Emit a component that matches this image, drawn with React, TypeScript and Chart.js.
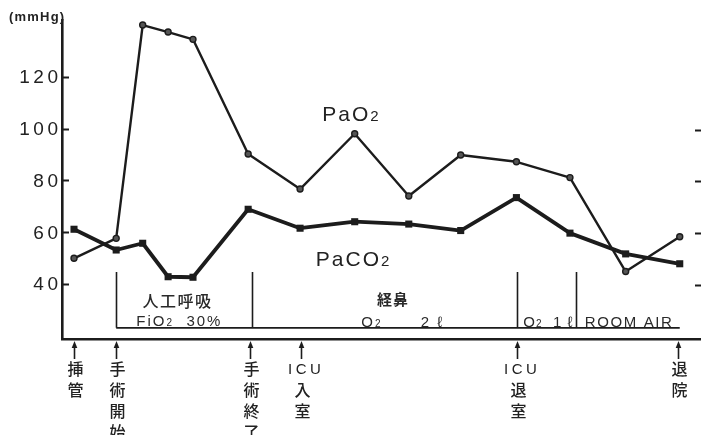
import React, { useEffect, useRef } from "react";
import { Chart, registerables } from "chart.js";

Chart.register(...registerables);

// Sampling moments along the peri-operative course (arbitrary time index)
const timeSteps = [0, 0.78, 1.27, 1.74, 2.2, 3.22, 4.18, 5.19, 6.19, 7.15, 8.18, 9.17, 10.2, 11.2];
// Arterial O2 tension (mmHg)
const paO2 = [50.0, 57.7, 139.9, 137.2, 134.4, 90.2, 76.7, 98.0, 74.0, 89.8, 87.2, 81.1, 44.9, 58.3];
// Arterial CO2 tension (mmHg)
const paCO2 = [61.2, 53.2, 55.8, 42.9, 42.7, 68.9, 61.6, 64.1, 63.2, 60.7, 73.4, 59.7, 51.7, 47.9];

const yTickValues = [40, 60, 80, 100, 120];
const rightTickValues = [40, 60, 80, 100];
const yMin = 18.9;
const yMax = 141.85;
const xMin = -0.222;
const xMax = 11.593;
const unitLabel = "(mmHg)";

// Clinical events marked under the time axis
const eventTimes = [0, 0.78, 3.26, 4.2, 8.19, 11.17];
const eventLabels = [
  ["挿", "管"],
  ["手", "術", "開", "始"],
  ["手", "術", "終", "了"],
  ["ICU", "入", "室"],
  ["ICU", "退", "室"],
  ["退", "院"],
];

// Oxygen-therapy phase boundaries and span
const phaseEdges = [0.78, 3.3, 8.2, 9.28];
const phaseSpan = [0.78, 11.2];
const phaseTop = 44.7;
const phaseBottom = 23.2;

const INK = "#1c1c1c";
const LATIN = '"Liberation Sans", Arial, sans-serif';
const CJK = '"Noto Sans CJK JP", "Noto Sans CJK SC", sans-serif';

type Run = { text: string; size: number; family?: string; weight?: string };

function fontOf(r: Run) {
  return `${r.weight || "normal"} ${r.size}px ${r.family || LATIN}`;
}

function runsWidth(ctx: CanvasRenderingContext2D, runs: Run[], spacing: number) {
  let w = 0;
  for (const r of runs) {
    ctx.font = fontOf(r);
    w += ctx.measureText(r.text).width;
  }
  return w - spacing;
}

// Draws a sequence of text runs (e.g. "PaO" + small "2") centred on cx
function drawRuns(
  ctx: CanvasRenderingContext2D,
  runs: Run[],
  cx: number,
  cy: number,
  spacing: number,
  mainSize: number
) {
  ctx.save();
  (ctx as any).letterSpacing = `${spacing}px`;
  ctx.textAlign = "left";
  ctx.textBaseline = "alphabetic";
  const total = runsWidth(ctx, runs, spacing);
  let x = cx - total / 2;
  const base = cy + mainSize * 0.36;
  for (const r of runs) {
    ctx.font = fontOf(r);
    ctx.fillText(r.text, x, base);
    x += ctx.measureText(r.text).width;
  }
  ctx.restore();
}

const annotations = {
  id: "bloodGasAnnotations",
  afterDraw(chart: any) {
    const { ctx, chartArea } = chart;
    const x = chart.scales.x;
    const y = chart.scales.y;
    ctx.save();
    ctx.strokeStyle = INK;
    ctx.fillStyle = INK;
    ctx.lineCap = "butt";

    // inward ticks on the value axis
    ctx.lineWidth = 2;
    for (const v of yTickValues) {
      const py = Math.round(y.getPixelForValue(v)) + 0.5;
      ctx.beginPath();
      ctx.moveTo(chartArea.left, py);
      ctx.lineTo(chartArea.left + 7, py);
      ctx.stroke();
    }
    // short ticks at the right edge
    for (const v of rightTickValues) {
      const py = Math.round(y.getPixelForValue(v)) + 1.5;
      ctx.beginPath();
      ctx.moveTo(chartArea.right - 6, py);
      ctx.lineTo(chartArea.right, py);
      ctx.stroke();
    }

    // value labels
    ctx.fillStyle = "#222";
    (ctx as any).letterSpacing = "3.5px";
    ctx.font = `19px ${LATIN}`;
    ctx.textBaseline = "middle";
    ctx.textAlign = "left";
    for (const v of yTickValues) {
      const s = String(v);
      const w = ctx.measureText(s).width - 3.5;
      ctx.fillText(s, 58 - w, y.getPixelForValue(v) + 1);
    }
    (ctx as any).letterSpacing = "1.2px";
    ctx.font = `bold 13px ${LATIN}`;
    ctx.fillText(unitLabel, 9, 17);
    (ctx as any).letterSpacing = "0px";

    // series names
    ctx.fillStyle = "#222";
    drawRuns(
      ctx,
      [
        { text: "PaO", size: 21 },
        { text: "2", size: 15 },
      ],
      x.getPixelForValue(5.11),
      y.getPixelForValue(106),
      2,
      21
    );
    drawRuns(
      ctx,
      [
        { text: "PaCO", size: 21 },
        { text: "2", size: 15 },
      ],
      x.getPixelForValue(5.15),
      y.getPixelForValue(50.1),
      2,
      21
    );

    // oxygen therapy phases
    ctx.strokeStyle = INK;
    ctx.lineWidth = 1.6;
    const pTop = y.getPixelForValue(phaseTop);
    const pBot = y.getPixelForValue(phaseBottom);
    ctx.beginPath();
    ctx.moveTo(x.getPixelForValue(phaseSpan[0]), pBot);
    ctx.lineTo(x.getPixelForValue(phaseSpan[1]), pBot);
    for (const t of phaseEdges) {
      const px = Math.round(x.getPixelForValue(t)) + 0.5;
      ctx.moveTo(px, pTop);
      ctx.lineTo(px, pBot);
    }
    ctx.stroke();

    ctx.fillStyle = "#2a2a2a";
    drawRuns(ctx, [{ text: "人工呼吸", size: 16, family: CJK, weight: "500" }], x.getPixelForValue(1.9), y.getPixelForValue(33.3), 1.5, 16);
    drawRuns(
      ctx,
      [
        { text: "FiO", size: 15 },
        { text: "2", size: 10 },
        { text: "  30%", size: 15 },
      ],
      x.getPixelForValue(1.93),
      y.getPixelForValue(26.0),
      2,
      15
    );
    drawRuns(ctx, [{ text: "経鼻", size: 15, family: CJK, weight: "bold" }], x.getPixelForValue(5.89), y.getPixelForValue(34.2), 1, 15);
    drawRuns(
      ctx,
      [
        { text: "O", size: 15 },
        { text: "2", size: 10 },
      ],
      x.getPixelForValue(5.49),
      y.getPixelForValue(25.6),
      2,
      15
    );
    drawRuns(ctx, [{ text: "2 ℓ", size: 15 }], x.getPixelForValue(6.61), y.getPixelForValue(25.6), 2, 15);
    drawRuns(
      ctx,
      [
        { text: "O", size: 15 },
        { text: "2", size: 10 },
        { text: "  1 ℓ", size: 15 },
      ],
      x.getPixelForValue(8.76),
      y.getPixelForValue(25.6),
      1,
      15
    );
    drawRuns(ctx, [{ text: "ROOM AIR", size: 15 }], x.getPixelForValue(10.25), y.getPixelForValue(25.6), 1.6, 15);

    // event arrows and vertical labels
    const axisY = chartArea.bottom;
    ctx.lineWidth = 1.6;
    eventTimes.forEach((t, i) => {
      const px = Math.round(x.getPixelForValue(t)) + 0.5;
      ctx.strokeStyle = INK;
      ctx.fillStyle = INK;
      ctx.beginPath();
      ctx.moveTo(px, axisY + 8);
      ctx.lineTo(px, axisY + 20);
      ctx.stroke();
      ctx.beginPath();
      ctx.moveTo(px, axisY + 2);
      ctx.lineTo(px - 2.8, axisY + 9);
      ctx.lineTo(px + 2.8, axisY + 9);
      ctx.closePath();
      ctx.fill();

      ctx.fillStyle = "#222";
      eventLabels[i].forEach((ch, k) => {
        const cy = axisY + 30 + k * 21;
        if (/^[A-Z]+$/.test(ch)) {
          drawRuns(ctx, [{ text: ch, size: 15 }], px + 3, cy, 3.5, 15);
        } else {
          drawRuns(ctx, [{ text: ch, size: 16, family: CJK, weight: "500" }], px + 1, cy, 0, 16);
        }
      });
    });

    ctx.restore();
  },
};

export default function App() {
  const canvasRef = useRef<HTMLCanvasElement | null>(null);

  useEffect(() => {
    document.body.style.margin = "0";
    const canvas = canvasRef.current;
    if (!canvas) return;

    const chart = new Chart(canvas, {
      type: "line",
      data: {
        datasets: [
          {
            label: "PaO2",
            data: timeSteps.map((t, i) => ({ x: t, y: paO2[i] })),
            borderColor: INK,
            borderWidth: 2.4,
            pointStyle: "circle",
            pointRadius: 3,
            pointBackgroundColor: "#555",
            pointBorderColor: INK,
            pointBorderWidth: 1.4,
            tension: 0,
            borderJoinStyle: "round",
            clip: false,
          },
          {
            label: "PaCO2",
            data: timeSteps.map((t, i) => ({ x: t, y: paCO2[i] })),
            borderColor: INK,
            borderWidth: 3.8,
            pointStyle: "rect",
            pointRadius: 5,
            pointBackgroundColor: INK,
            pointBorderColor: INK,
            pointBorderWidth: 0,
            tension: 0,
            borderJoinStyle: "round",
          },
        ],
      },
      options: {
        responsive: false,
        animation: false,
        devicePixelRatio: 1,
        layout: { autoPadding: false, padding: { top: 20, right: 0, bottom: 0, left: 0 } },
        plugins: {
          legend: { display: false },
          tooltip: { enabled: false },
        },
        scales: {
          x: {
            type: "linear",
            min: xMin,
            max: xMax,
            grid: { display: false },
            ticks: { display: false },
            border: { display: true, color: INK, width: 2.4 },
            afterFit: (s: any) => {
              s.height = 96;
            },
          },
          y: {
            type: "linear",
            min: yMin,
            max: yMax,
            grid: { display: false },
            ticks: { display: false },
            border: { display: true, color: INK, width: 2.6 },
            afterFit: (s: any) => {
              s.width = 62;
            },
          },
        },
      },
      plugins: [annotations],
    } as any);

    return () => chart.destroy();
  }, []);

  return (
    <div style={{ width: 701, height: 435, background: "#fff" }}>
      <canvas ref={canvasRef} width={701} height={435} style={{ display: "block" }} />
    </div>
  );
}
